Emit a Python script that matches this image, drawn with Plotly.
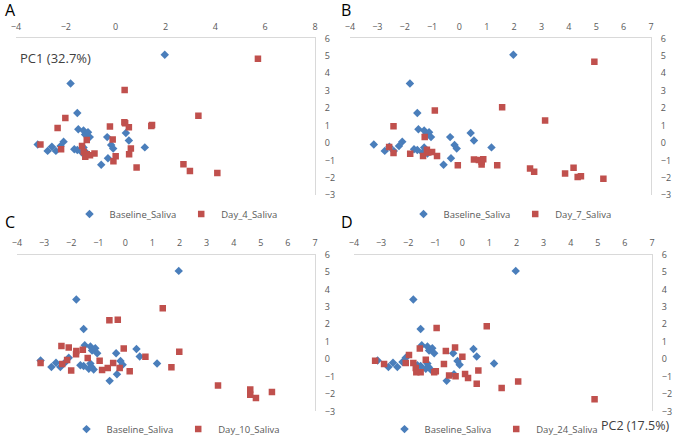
import plotly.graph_objects as go

# ---- data (PC1, PC2 scores) ----
baseline_x = [1.97, -1.81, -1.54, -1.50, -1.29, -1.23, -1.11, -1.04, -0.34, 0.41, 0.53, 1.17,
              -0.18, -0.10, -0.31, -0.58, -3.13, -2.73, -2.56, -2.40, -2.21, -2.09, -1.66,
              -1.54, -1.35, -1.29, -1.17, -1.25]
baseline_y = [5.06, 3.42, 1.72, 0.79, 0.72, 0.49, 0.62, 0.34, 0.34, 0.58, 0.15, -0.25,
              -0.11, -0.32, -0.87, -1.25, -0.08, -0.45, -0.21, -0.45, -0.17, 0.08, -0.36,
              -0.40, -0.55, -0.26, -0.60, -0.45]

day4_x = [5.71, 0.36, 3.32, -2.02, -2.33, -0.23, 0.35, 0.38, 0.53, 1.46, 1.43, -0.12, -1.16,
          -3.02, -2.19, -1.35, -1.28, -1.16, -1.22, -1.03, -0.85, 0.61, 0.54, 0.00, -0.09,
          0.84, 2.72, 2.98, 4.08]
day4_y = [4.84, 3.04, 1.57, 1.44, 0.87, 0.95, 1.19, 1.13, 0.91, 1.04, 0.98, 0.21, 0.18,
          -0.08, -0.36, -0.17, -0.51, -0.64, -0.79, -0.70, -0.60, -0.32, -0.64, -0.76, -1.04,
          -1.40, -1.21, -1.61, -1.72]

day7_x = [4.93, 1.56, 3.13, -0.90, -2.41, -1.27, -2.57, -2.41, -1.80, -1.33, -1.19, -1.14,
          -1.00, -0.82, -0.06, 0.53, 0.71, 0.81, 0.87, 0.81, 1.38, 2.58, 2.73, 3.86, 4.17,
          4.32, 4.44, 5.26]
day7_y = [4.67, 2.05, 1.29, 1.86, 0.97, 0.34, -0.23, -0.57, -0.61, -0.74, -0.38, -0.55,
          -0.51, -0.74, -1.27, -0.95, -0.97, -1.08, -0.93, -1.23, -1.27, -1.46, -1.65, -1.75,
          -1.42, -1.95, -1.90, -2.05]

day10_x = [1.38, -0.59, -0.28, -2.36, -2.09, -1.81, -1.82, -1.57, -1.39, -0.06, 0.74, 1.99,
           -3.13, -2.33, -2.15, -2.00, -0.95, -0.45, -0.86, -0.65, -0.21, 0.16, 1.70, 3.42,
           4.61, 4.61, 4.82, 5.41]
day10_y = [2.92, 2.23, 2.26, 0.75, 0.66, 0.47, 0.28, 0.53, 0.06, 0.60, 0.13, 0.42,
           -0.23, -0.28, -0.06, -0.66, -0.09, -0.23, -0.62, -0.51, -0.51, -0.70, -0.47, -1.51,
           -1.75, -2.04, -2.23, -1.89]

day24_x = [4.88, 2.06, 1.45, 0.90, -0.95, -0.27, -0.61, 0.00, -1.57, -1.97, -1.35, -3.22,
           -2.89, -2.09, -1.81, -1.72, -1.70, -1.54, -1.04, -0.98, -0.68, -0.49, -0.25, 0.10,
           0.21, 0.59, 0.53]
day24_y = [-2.30, -1.28, -1.66, 1.89, 1.79, 0.66, 0.47, 0.13, 0.60, 0.23, -0.04, -0.09,
           -0.28, -0.23, -0.23, -0.51, -0.75, -0.75, -0.75, -0.70, -0.28, -0.94, -0.98, -0.85,
           -1.09, -0.66, -1.42]

panels = [
    ("A", "Day_4_Saliva", day4_x, day4_y),
    ("B", "Day_7_Saliva", day7_x, day7_y),
    ("C", "Day_10_Saliva", day10_x, day10_y),
    ("D", "Day_24_Saliva", day24_x, day24_y),
]
x_ranges = [[-4, 8], [-4, 7], [-4, 7], [-4, 7]]
x_dticks = [2, 1, 1, 1]

W, H = 674, 444
# plot areas in pixels: (left, right, top, bottom)
boxes = [(16, 315, 39, 198), (350, 651, 39, 198), (17, 315, 258, 417), (354, 652, 258, 417)]
legend_pos = [(176, 217), (510, 217), (176, 435), (494, 435)]
label_pos = [(3, 10), (339, 10), (3, 225), (339, 225)]

BLUE = "#4a7ebb"
RED = "#c0504d"
TICKC = "#595959"
FONT = "Open Sans, Liberation Sans, sans-serif"

fig = go.Figure()
layout = dict(
    width=W, height=H, margin=dict(l=0, r=0, t=0, b=0),
    plot_bgcolor="white", paper_bgcolor="white",
    font=dict(family=FONT, color=TICKC),
)

annotations = []
for i, (lab, name, xs, ys) in enumerate(panels):
    n = i + 1
    xa = "x" if n == 1 else f"x{n}"
    ya = "y" if n == 1 else f"y{n}"
    lg = "legend" if n == 1 else f"legend{n}"
    fig.add_trace(go.Scatter(x=baseline_x, y=baseline_y, mode="markers", name="Baseline_Saliva",
                             marker=dict(symbol="diamond", size=6.5, color=BLUE),
                             xaxis=xa, yaxis=ya, legend=lg))
    fig.add_trace(go.Scatter(x=xs, y=ys, mode="markers", name=name,
                             marker=dict(symbol="square", size=6.5, color=RED),
                             xaxis=xa, yaxis=ya, legend=lg))
    l, r, t, b = boxes[i]
    axkey = "xaxis" if n == 1 else f"xaxis{n}"
    aykey = "yaxis" if n == 1 else f"yaxis{n}"
    layout[axkey] = dict(domain=[l / W, r / W], range=x_ranges[i], dtick=x_dticks[i],
                         side="top", anchor=ya, showline=True, linecolor="#d9d9d9", linewidth=1,
                         showgrid=False, zeroline=False, ticks="", automargin=False,
                         tickfont=dict(size=9, color=TICKC, family=FONT), ticklabelstandoff=4)
    layout[aykey] = dict(domain=[1 - b / H, 1 - t / H], range=[-3, 6], dtick=1,
                         side="right", anchor=xa, showline=True, linecolor="#d9d9d9", linewidth=1,
                         showgrid=False, zeroline=False, ticks="", automargin=False,
                         tickfont=dict(size=9, color=TICKC, family=FONT), ticklabelstandoff=7)
    lx, ly = legend_pos[i]
    layout[lg] = dict(orientation="h", x=lx / W, y=1 - ly / H, xanchor="center", yanchor="middle",
                      font=dict(size=9.5, color=TICKC, family=FONT), itemwidth=30,
                      bgcolor="rgba(0,0,0,0)", tracegroupgap=0)
    px, py = label_pos[i]
    annotations.append(dict(text=lab, xref="paper", yref="paper", x=px / W, y=1 - py / H,
                            xanchor="left", yanchor="middle", showarrow=False,
                            font=dict(size=16, color="black", family=FONT)))

annotations.append(dict(text="PC1 (32.7%)", xref="paper", yref="paper", x=18 / W, y=1 - 59 / H,
                        xanchor="left", yanchor="middle", showarrow=False,
                        font=dict(size=13, color="#404040", family=FONT)))
annotations.append(dict(text="PC2 (17.5%)", xref="paper", yref="paper", x=599 / W, y=1 - 431 / H,
                        xanchor="left", yanchor="middle", showarrow=False,
                        font=dict(size=12.5, color="#404040", family=FONT)))
layout["annotations"] = annotations
fig.update_layout(**layout)
fig.write_html("out.html", config={"displayModeBar": False},
               post_script="document.body.style.margin='0';document.body.style.overflow='hidden';")
